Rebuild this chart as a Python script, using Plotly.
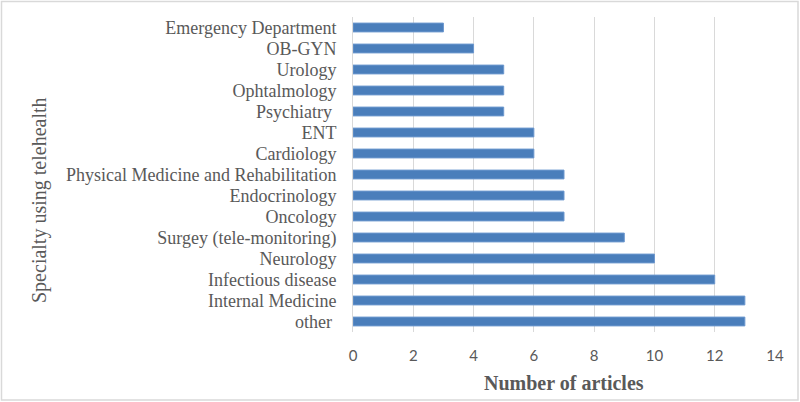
import plotly.graph_objects as go

specialties = [
    "Emergency Department", "OB-GYN", "Urology", "Ophtalmology", "Psychiatry ",
    "ENT", "Cardiology", "Physical Medicine and Rehabilitation", "Endocrinology",
    "Oncology", "Surgey (tele-monitoring)", "Neurology", "Infectious disease",
    "Internal Medicine", "other ",
]
articles = [3, 4, 5, 5, 5, 6, 6, 7, 7, 7, 9, 10, 12, 13, 13]
x_ticks = [0, 2, 4, 6, 8, 10, 12, 14]

W, H = 800, 402
L, R, T, B = 353, 25, 17, 70
pw, ph = W - L - R, H - T - B

def px(x):
    return (x - L) / pw

def py(y):
    return (H - B - y) / ph

FONT = "Liberation Serif, Times New Roman, serif"
SANS = "Lato, Carlito, Calibri, sans-serif"
GRAY = "#595959"

fig = go.Figure(go.Bar(
    x=articles, y=specialties, orientation="h",
    marker=dict(color="#4a7ebb", line=dict(color="#6d98cf", width=1)),
    width=0.42,
))

fig.update_layout(
    width=W, height=H,
    margin=dict(l=L, r=R, t=T, b=B),
    paper_bgcolor="white", plot_bgcolor="white",
    showlegend=False,
    font=dict(family=FONT, color=GRAY, size=18),
    xaxis=dict(
        range=[0, 14], tickvals=x_ticks, showgrid=True, gridcolor="#d9d9d9",
        gridwidth=1, zeroline=False, showline=False,
        tickfont=dict(family=SANS, size=15, color=GRAY),
        ticklabelstandoff=13,
    ),
    yaxis=dict(
        type="category", autorange="reversed", showgrid=False, zeroline=False,
        showline=True, linecolor="#d9d9d9", linewidth=1,
        tickmode="array", tickvals=specialties, ticktext=specialties,
        tickfont=dict(family=FONT, size=18, color=GRAY),
        ticklabelstandoff=12,
    ),
    annotations=[
        dict(text="Specialty using telehealth", xref="paper", yref="paper",
             x=px(40), y=py(200), textangle=-90, showarrow=False,
             xanchor="center", yanchor="middle",
             font=dict(family=FONT, size=20, color=GRAY)),
        dict(text="<b>Number of articles</b>", xref="paper", yref="paper",
             x=px(564), y=py(383), showarrow=False,
             xanchor="center", yanchor="middle",
             font=dict(family=FONT, size=20, color=GRAY)),
    ],
    shapes=[
        dict(type="rect", xref="paper", yref="paper",
             x0=px(1.5), x1=px(798), y0=py(400), y1=py(1.5),
             line=dict(color="#d9d9d9", width=1.5), fillcolor="rgba(0,0,0,0)",
             layer="below"),
    ],
)

fig.write_html(
    "out.html",
    config={"displayModeBar": False},
    post_script="document.body.style.margin='0';document.body.style.padding='0';",
)
